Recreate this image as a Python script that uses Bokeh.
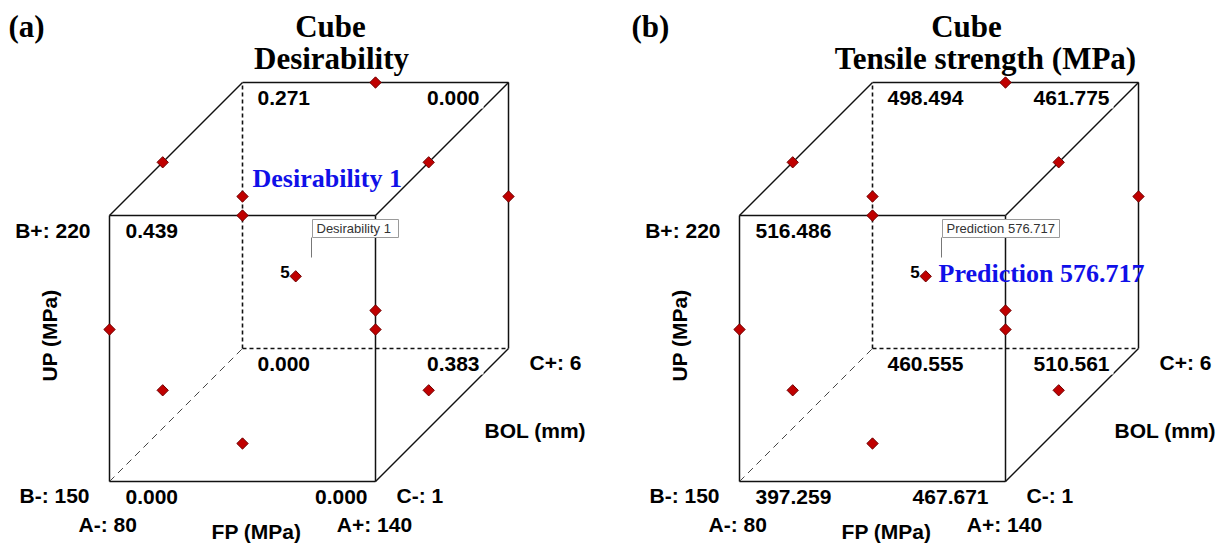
import math
from bokeh.plotting import figure
from bokeh.models import Range1d
from bokeh.embed import file_html
from bokeh.resources import INLINE
from bokeh.core.properties import value

# ---------------- data ----------------
# factor ranges (cube extent)
fp_range = [80, 140]     # A: FP (MPa)
up_range = [150, 220]    # B: UP (MPa)
bol_range = [1, 6]       # C: BOL (mm)

# Box-Behnken design points in actual units
design_fp = [110, 80, 140, 80, 140, 110, 110, 110, 140, 80, 80, 140, 110]
design_up = [220, 220, 220, 190, 190, 220, 190, 160, 190, 190, 160, 160, 160]
design_bol = [6, 3, 3, 6, 6, 1, 3, 6, 1, 1, 3, 3, 1]
center_point = [110, 190, 3]
center_runs = "5"

# cube corners: back-top-left, back-top-right, front-top-left, front-top-right,
#               back-bottom-left, back-bottom-right, front-bottom-left, front-bottom-right
corner_fp = [80, 140, 80, 140, 80, 140, 80, 140]
corner_up = [220, 220, 220, 220, 150, 150, 150, 150]
corner_bol = [6, 6, 1, 1, 6, 6, 1, 1]
desirability_values = ["0.271", "0.000", "0.439", "0", "0.000", "0.383", "0.000", "0.000"]
tensile_values = ["498.494", "461.775", "516.486", "503", "460.555", "510.561", "397.259", "467.671"]

panels = [
    dict(tag="(a)", title2="Desirability", values=desirability_values,
         callout="Desirability 1", tip="Desirability  1"),
    dict(tag="(b)", title2="Tensile strength (MPa)", values=tensile_values,
         callout="Prediction 576.717", tip="Prediction  576.717"),
]

# ---------------- layout (pixels) ----------------
W, H = 1220, 544
FACE = 266          # front face size
DEPTH = 133         # oblique depth offset
BASE_Y = 481        # bottom of front face
ORIGINS = [109, 739]
TAG_X = [8, 631]
TITLE1_X = [330, 966]
TITLE2_X = [331, 985]
CALLOUT = [(252, 178), (938, 273)]
TIP_W = [86, 117]
FRONT_BR_SHIFT = [9, 0]

SANS = value("Liberation Sans")
SERIF = value("Liberation Serif")


def proj(a, b, c, ox):
    x = ox + (a - fp_range[0]) / (fp_range[1] - fp_range[0]) * FACE \
        + (c - bol_range[0]) / (bol_range[1] - bol_range[0]) * DEPTH
    y = BASE_Y - (b - up_range[0]) / (up_range[1] - up_range[0]) * FACE \
        - (c - bol_range[0]) / (bol_range[1] - bol_range[0]) * DEPTH
    return x, y


p = figure(width=W, height=H, x_range=Range1d(0, W), y_range=Range1d(H, 0),
           output_backend="svg", toolbar_location=None, min_border=0,
           x_axis_location=None, y_axis_location=None)
p.grid.visible = False
p.outline_line_color = None
p.background_fill_color = "white"
p.border_fill_color = "white"

a0, a1 = fp_range
b0, b1 = up_range
c0, c1 = bol_range
solid_edges = [
    ((a0, b0, c0), (a1, b0, c0)), ((a0, b1, c0), (a1, b1, c0)),
    ((a0, b0, c0), (a0, b1, c0)), ((a1, b0, c0), (a1, b1, c0)),
    ((a0, b1, c1), (a1, b1, c1)), ((a1, b0, c1), (a1, b1, c1)),
    ((a0, b1, c0), (a0, b1, c1)), ((a1, b1, c0), (a1, b1, c1)),
    ((a1, b0, c0), (a1, b0, c1)),
]
hidden_edges = [((a0, b0, c1), (a0, b1, c1)), ((a0, b0, c1), (a1, b0, c1))]
hidden_diag = [((a0, b0, c0), (a0, b0, c1))]

for i, pan in enumerate(panels):
    ox = ORIGINS[i]

    def seg(edges):
        xs, ys = [], []
        for e0, e1 in edges:
            x0, y0 = proj(*e0, ox)
            x1, y1 = proj(*e1, ox)
            xs.append([x0, x1])
            ys.append([y0, y1])
        return xs, ys

    xs, ys = seg(solid_edges)
    p.multi_line(xs, ys, line_color="#111111", line_width=1.5)
    xs, ys = seg(hidden_edges)
    p.multi_line(xs, ys, line_color="#111111", line_width=1.6, line_dash="4 3")
    xs, ys = seg(hidden_diag)
    p.multi_line(xs, ys, line_color="#444444", line_width=1.0, line_dash="7 5")

    # design points
    px, py = zip(*[proj(a, b, c, ox) for a, b, c in zip(design_fp, design_up, design_bol)])
    p.scatter(list(px), list(py), marker="square", angle=math.pi / 4, size=8,
              fill_color="#c00000", line_color="#6e0000", line_width=1)
    cx, cy = proj(*center_point, ox)
    p.text([cx - 6], [cy - 4], text=[center_runs], text_font=SANS, text_font_style="bold",
           text_font_size="17px", text_align="right", text_baseline="middle",
           text_color="black")

    # corner values
    for k in range(8):
        x, y = proj(corner_fp[k], corner_up[k], corner_bol[k], ox)
        back = corner_bol[k] == c1
        if corner_fp[k] == a0:
            tx, align = x + (15 if back else 16), "left"
        else:
            tx, align = x - (25 if back else 17), "right"
            if not back and corner_up[k] == b0:
                tx += FRONT_BR_SHIFT[i]
        kw = {}
        if align == "right" and back:
            kw = dict(background_fill_color="white", padding=4)
        p.text([tx], [y + 15], text=[pan["values"][k]], text_font=SANS,
               text_font_style="bold", text_font_size="21px", text_align=align,
               text_baseline="middle", text_color="black", **kw)

    # factor labels
    lab = dict(text_font=SANS, text_font_style="bold", text_font_size="21px",
               text_baseline="middle", text_color="black")
    fx, fy = proj(a0, b1, c0, ox)
    p.text([fx - 19], [fy + 15], text=[f"B+: {b1}"], text_align="right", **lab)
    fx, fy = proj(a0, b0, c0, ox)
    p.text([fx - 20], [fy + 14], text=[f"B-: {b0}"], text_align="right", **lab)
    p.text([fx - 31], [fy + 43], text=[f"A-: {a0}"], text_align="left", **lab)
    p.text([fx + 147], [fy + 50], text=["FP (MPa)"], text_align="center", **lab)
    p.text([fx + 265], [fy + 43], text=[f"A+: {a1}"], text_align="center", **lab)
    p.text([fx + 287], [fy + 14], text=[f"C-: {c0}"], text_align="left", **lab)
    p.text([fx + 420], [fy - 119], text=[f"C+: {c1}"], text_align="left", **lab)
    p.text([fx + 375], [fy - 51], text=["BOL (mm)"], text_align="left", **lab)
    p.text([fx - 60], [335], text=["UP (MPa)"], text_align="center", angle=math.pi / 2, **lab)

    # titles
    ttl = dict(text_font=SERIF, text_font_style="bold", text_font_size="31px",
               text_baseline="middle", text_color="black")
    p.text([TAG_X[i]], [26], text=[pan["tag"]], text_align="left", **ttl)
    p.text([TITLE1_X[i]], [26], text=["Cube"], text_align="center", **ttl)
    p.text([TITLE2_X[i]], [58], text=[pan["title2"]], text_align="center", **ttl)

    # tooltip box with leader
    bx = ox + 203
    p.quad(left=[bx], right=[bx + TIP_W[i]], top=[219], bottom=[237],
           fill_color="white", line_color="#9a9a9a", line_width=1)
    p.segment(x0=[bx - 1], y0=[237], x1=[bx - 1], y1=[257], line_color="#777777", line_width=1)
    p.text([bx + 4], [228], text=[pan["tip"]], text_font=SANS, text_font_size="13px",
           text_align="left", text_baseline="middle", text_color="#333333")

    # blue callout
    p.text([CALLOUT[i][0]], [CALLOUT[i][1]], text=[pan["callout"]], text_font=SERIF,
           text_font_style="bold", text_font_size="26px", text_align="left",
           text_baseline="middle", text_color="#1010e8")

open("out.html", "w").write(file_html(p, INLINE))
